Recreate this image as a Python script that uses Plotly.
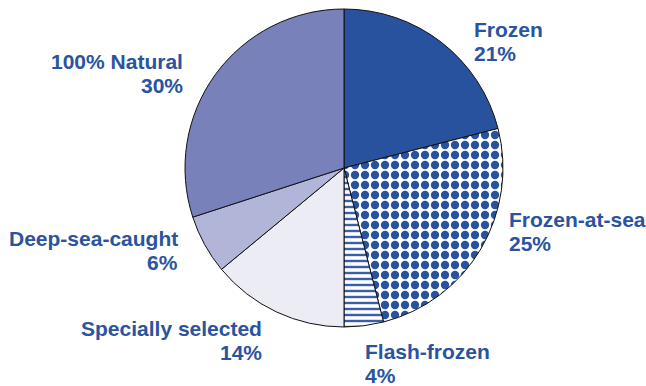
import plotly.graph_objects as go

labels = ["Frozen", "Frozen-at-sea", "Flash-frozen", "Specially selected", "Deep-sea-caught", "100% Natural"]
values = [21, 25, 4, 14, 6, 30]

colors = ["#28529e", "#ffffff", "#ffffff", "#ececf5", "#b1b5d8", "#7981ba"]
pat_shapes = ["", ".", "-", "", "", ""]
pat_fg = ["#28529e", "#28529e", "#3a5fa8", "#28529e", "#28529e", "#28529e"]
pat_size = [8, 10, 6, 8, 8, 8]
pat_sol = [0.3, 0.55, 0.4, 0.3, 0.3, 0.3]

W, H = 646, 386
cx, cy, r = 344, 168, 159

fig = go.Figure(go.Pie(
    labels=labels, values=values, sort=False, direction="clockwise",
    rotation=0, textinfo="none", hoverinfo="label+percent",
    marker=dict(colors=colors, line=dict(color="#111111", width=1),
                pattern=dict(shape=pat_shapes, fgcolor=pat_fg, bgcolor="#ffffff",
                             size=pat_size, solidity=pat_sol, fillmode="replace",
                             fgopacity=1)),
    domain=dict(x=[(cx - r) / W, (cx + r) / W], y=[1 - (cy + r) / H, 1 - (cy - r) / H]),
    showlegend=False,
))

# label placement: (x px, y px of first line center, anchor)
pos = [(472, 29, "left"), (507, 219, "left"), (363, 351, "left"),
       (264, 328, "right"), (180, 238, "right"), (185, 61, "right")]
line_gap = 24.5
font = dict(family="Liberation Sans, Arial", size=21, color="#2a53a0", weight="bold")
annos = []
for lab, val, (x, y, anc) in zip(labels, values, pos):
    for k, t in enumerate([lab, f"{val}%"]):
        annos.append(dict(
            x=x / W, y=1 - (y + k * line_gap) / H, xref="paper", yref="paper",
            xanchor=anc, yanchor="middle", align=anc, showarrow=False,
            text=t, font=font,
        ))

fig.update_layout(
    width=W, height=H, margin=dict(l=0, r=0, t=0, b=0),
    paper_bgcolor="white", plot_bgcolor="white",
    annotations=annos,
)

fig.write_html("out.html")
